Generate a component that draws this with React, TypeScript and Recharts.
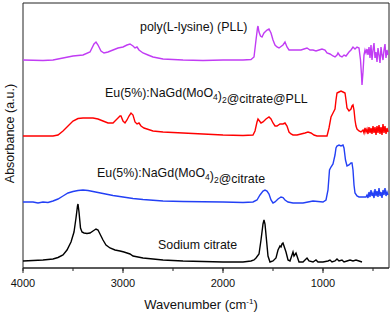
import React from 'react';
import { LineChart, Line, XAxis, YAxis, ReferenceArea, ReferenceDot } from 'recharts';

// FTIR spectra, stacked (arbitrary absorbance units, offset per trace)
const pllSpectrum: [number, number][] = [
  [4000, 208], [3800, 207.5], [3700, 208], [3600, 210], [3500, 212], [3400, 213], [3330, 216],
  [3290, 224], [3270, 226], [3250, 223], [3220, 217], [3190, 215], [3150, 216], [3100, 218],
  [3050, 220], [3000, 221], [2960, 223], [2930, 224], [2900, 222], [2880, 220], [2860, 221],
  [2840, 218], [2800, 215], [2750, 213], [2700, 211], [2600, 209], [2400, 208], [2200, 207.5],
  [2000, 208], [1800, 208], [1720, 208.5], [1690, 211], [1670, 228], [1655, 240], [1650, 242],
  [1640, 236], [1625, 232], [1610, 231], [1590, 235], [1560, 238], [1540, 239], [1520, 235],
  [1500, 228], [1480, 223], [1460, 221], [1440, 220], [1400, 223], [1380, 226], [1360, 221],
  [1340, 218], [1300, 218], [1260, 218], [1220, 218], [1190, 219], [1160, 220], [1130, 218],
  [1100, 218], [1070, 217], [1040, 218], [1010, 219], [980, 218], [960, 215], [930, 214],
  [900, 212], [880, 211], [860, 213], [850, 215], [830, 212], [810, 211], [790, 213], [770, 212],
  [740, 216], [720, 218], [700, 221], [680, 219], [660, 221], [640, 220], [625, 208], [615, 193],
  [610, 183], [600, 196], [590, 213], [580, 218], [570, 215], [560, 219], [550, 213], [540, 221],
  [530, 210], [520, 223], [510, 208], [500, 218], [490, 225], [480, 210], [470, 216], [460, 206],
  [450, 220], [440, 213], [430, 205], [420, 221], [410, 213], [400, 208], [390, 218], [380, 224],
  [370, 210], [360, 218], [350, 213],
];

const euPllSpectrum: [number, number][] = [
  [4000, 132], [3800, 132], [3700, 132], [3650, 133], [3600, 137], [3550, 142], [3500, 147],
  [3450, 149.5], [3400, 150], [3300, 150], [3250, 149], [3200, 147], [3150, 145], [3100, 145],
  [3070, 148], [3050, 150], [3030, 152], [3020, 152], [3000, 147], [2980, 145], [2960, 148],
  [2940, 152], [2920, 155], [2900, 153], [2880, 146], [2860, 144], [2840, 145], [2820, 142],
  [2790, 140], [2700, 137], [2600, 136], [2400, 135], [2200, 134], [2000, 133], [1800, 132.5],
  [1700, 133], [1680, 137], [1660, 146], [1650, 149], [1635, 147], [1620, 145], [1600, 146],
  [1570, 149], [1540, 151], [1520, 149], [1500, 145], [1480, 142], [1460, 142], [1430, 144],
  [1400, 144], [1380, 145], [1360, 142], [1340, 136], [1320, 134], [1300, 133], [1260, 133],
  [1220, 134], [1180, 135], [1150, 136], [1120, 135], [1090, 133], [1060, 132], [1000, 132],
  [960, 132], [940, 140], [920, 151], [900, 155], [880, 159], [870, 168], [860, 175], [840, 176],
  [820, 177], [800, 176], [780, 175], [770, 168], [760, 160], [740, 157], [720, 159], [710, 162],
  [700, 163], [690, 158], [680, 148], [670, 142], [660, 139], [640, 137], [620, 136], [600, 138],
  [590, 135], [580, 140], [570, 136], [560, 139], [550, 134], [540, 141], [530, 135], [520, 140],
  [510, 134], [500, 142], [490, 135], [480, 141], [470, 133], [460, 142], [450, 135], [440, 143],
  [430, 134], [420, 141], [410, 133], [400, 144], [390, 135], [380, 142], [370, 134], [360, 140],
  [350, 136],
];

const euCitrateSpectrum: [number, number][] = [
  [4000, 66], [3900, 66], [3850, 65], [3800, 66], [3750, 65.5], [3700, 67], [3650, 69], [3600, 72],
  [3550, 75], [3500, 76.5], [3450, 77.5], [3400, 78], [3350, 77.5], [3300, 76.5], [3200, 74.5],
  [3100, 72.5], [3000, 71], [2900, 69.5], [2800, 68.5], [2600, 67], [2400, 66.5], [2000, 66],
  [1800, 65.5], [1700, 66], [1660, 68], [1630, 73], [1600, 77], [1580, 78], [1560, 77], [1540, 74],
  [1520, 68], [1500, 65], [1480, 66], [1450, 69], [1420, 71], [1400, 70.5], [1380, 68], [1350, 66],
  [1300, 65], [1200, 65], [1150, 66], [1100, 67], [1050, 66.5], [1000, 66], [970, 68], [950, 78],
  [935, 98], [920, 101], [900, 104], [880, 113], [870, 120], [860, 122], [840, 123], [820, 122],
  [800, 123], [790, 120], [775, 108], [760, 102], [740, 103], [720, 105], [710, 105], [700, 98],
  [690, 83], [680, 75], [660, 72], [640, 71], [600, 71], [570, 71], [560, 73], [550, 70], [540, 76],
  [530, 71], [520, 78], [510, 72], [500, 75], [490, 70], [480, 79], [470, 72], [460, 77], [450, 71],
  [440, 80], [430, 72], [420, 76], [410, 70], [400, 78], [390, 73], [380, 80], [370, 72], [360, 76],
  [350, 73],
];

const citrateSpectrum: [number, number][] = [
  [4000, 7], [3900, 7.5], [3800, 8], [3700, 9], [3650, 10.5], [3600, 13], [3560, 18], [3520, 26],
  [3490, 36], [3470, 50], [3455, 62], [3450, 64], [3440, 56], [3425, 40], [3410, 36], [3390, 35],
  [3360, 34.5], [3330, 35], [3300, 37], [3270, 39], [3250, 38], [3220, 32], [3200, 28], [3170, 23],
  [3130, 20], [3080, 18], [3030, 17], [2990, 16], [2960, 15], [2930, 14], [2900, 12], [2850, 11],
  [2800, 10], [2700, 9], [2600, 8], [2400, 7], [2200, 6.5], [2000, 6], [1800, 6], [1720, 7],
  [1690, 8], [1670, 10], [1640, 14], [1620, 28], [1600, 44], [1590, 48], [1580, 44], [1565, 28],
  [1550, 12], [1530, 6], [1500, 7], [1470, 10], [1450, 18], [1430, 22], [1420, 21], [1410, 24],
  [1400, 25], [1390, 22], [1370, 16], [1350, 8], [1330, 7], [1310, 13], [1300, 16], [1290, 12],
  [1270, 15], [1260, 12], [1240, 6], [1200, 6], [1180, 8], [1160, 10], [1140, 7], [1100, 6],
  [1070, 8], [1050, 6], [1000, 6], [950, 7], [930, 8], [910, 6], [880, 7], [860, 9], [840, 7],
  [810, 8], [790, 6], [760, 7], [730, 8], [700, 7], [670, 8], [640, 7], [610, 6],
];

const xTicks = [4000, 3500, 3000, 2500, 2000, 1500, 1000, 500];
const xDomain = [340, 4000];
const yDomain = [0, 265];

// label anchors: [wavenumber, absorbance]
const pllLabelAt = [2830, 237];
const euPllLabelAt = [3180, 171];
const euCitrateLabelAt = [3260, 91];
const citrateLabelAt = [2650, 19];

const FONT = "Arial, 'Liberation Sans', sans-serif";
const MINOR_TICK = 3;
const MAJOR_TICK = 5;
const TICK_MARGIN = 8;

const toRows = (pts: [number, number][]) => pts.map(([wn, a]) => ({ wn, a }));

const seriesList = [
  { name: 'PLL', data: toRows(pllSpectrum), color: '#c13cf4' },
  { name: 'EuPLL', data: toRows(euPllSpectrum), color: '#ff0000' },
  { name: 'EuCitrate', data: toRows(euCitrateSpectrum), color: '#2340f5' },
  { name: 'Citrate', data: toRows(citrateSpectrum), color: '#000000' },
];

const Sub = ({ children }: { children: string }) => (
  <>
    <tspan dy={3} fontSize={8.5}>{children}</tspan>
    <tspan dy={-3}></tspan>
  </>
);

const textShape = (content: React.ReactNode) => (props: any) => (
  <text x={props.cx} y={props.cy} fontSize={12.4} fontFamily={FONT} fill="#111">
    {content}
  </text>
);

// minor ticks are drawn by the axis (short), major ones get extended here
const WaveTick = (props: any) => {
  const { x, y, payload } = props;
  const v = payload.value as number;
  const major = v % 1000 === 0;
  const axisY = y - MINOR_TICK - TICK_MARGIN;
  return (
    <g>
      {major && <line x1={x} x2={x} y1={axisY} y2={axisY + MAJOR_TICK} stroke="#222" />}
      {major && (
        <text x={x} y={y} dy="0.71em" textAnchor="middle" fontSize={11} fontFamily={FONT} fill="#111">
          {v}
        </text>
      )}
    </g>
  );
};

const XLabel = (props: any) => {
  const vb = props.viewBox;
  return (
    <text x={vb.x + vb.width / 2 - 5} y={vb.y + 41} textAnchor="middle" fontSize={13} fontFamily={FONT} fill="#111">
      Wavenumber (cm<tspan dy={-5} fontSize={8}>-1</tspan><tspan dy={5}>)</tspan>
    </text>
  );
};

const YLabel = (props: any) => {
  const vb = props.viewBox;
  const cx = vb.x + 14;
  const cy = vb.y + vb.height / 2 - 2;
  return (
    <text x={cx} y={cy} transform={`rotate(-90, ${cx}, ${cy})`} textAnchor="middle" fontSize={12.5} fontFamily={FONT} fill="#111">
      Absorbance (a.u.)
    </text>
  );
};

export default function App() {
  return (
    <div style={{ position: 'absolute', left: 0, top: 0, background: '#fff' }}>
      <LineChart width={391} height={314} margin={{ top: 3, right: 2, bottom: 0, left: 0 }}>
        <XAxis
          dataKey="wn"
          type="number"
          domain={xDomain}
          reversed
          allowDataOverflow
          ticks={xTicks}
          tickSize={MINOR_TICK}
          tickMargin={TICK_MARGIN}
          height={46}
          stroke="#222"
          tick={<WaveTick />}
          label={{ content: XLabel }}
        />
        <YAxis
          type="number"
          domain={yDomain}
          width={23}
          tick={false}
          axisLine={false}
          tickLine={false}
          label={{ content: YLabel }}
        />
        <ReferenceArea x1={xDomain[0]} x2={xDomain[1]} y1={yDomain[0]} y2={yDomain[1]} fill="none" stroke="#222" strokeWidth={1} />
        {seriesList.map((s) => (
          <Line
            key={s.name}
            data={s.data}
            dataKey="a"
            type="linear"
            stroke={s.color}
            strokeWidth={1.4}
            dot={false}
            isAnimationActive={false}
          />
        ))}
        <ReferenceDot x={pllLabelAt[0]} y={pllLabelAt[1]} r={0} shape={textShape('poly(L-lysine) (PLL)')} />
        <ReferenceDot
          x={euPllLabelAt[0]}
          y={euPllLabelAt[1]}
          r={0}
          shape={textShape(<>Eu(5%):NaGd(MoO<Sub>4</Sub>)<Sub>2</Sub>@citrate@PLL</>)}
        />
        <ReferenceDot
          x={euCitrateLabelAt[0]}
          y={euCitrateLabelAt[1]}
          r={0}
          shape={textShape(<>Eu(5%):NaGd(MoO<Sub>4</Sub>)<Sub>2</Sub>@citrate</>)}
        />
        <ReferenceDot x={citrateLabelAt[0]} y={citrateLabelAt[1]} r={0} shape={textShape('Sodium citrate')} />
      </LineChart>
    </div>
  );
}
